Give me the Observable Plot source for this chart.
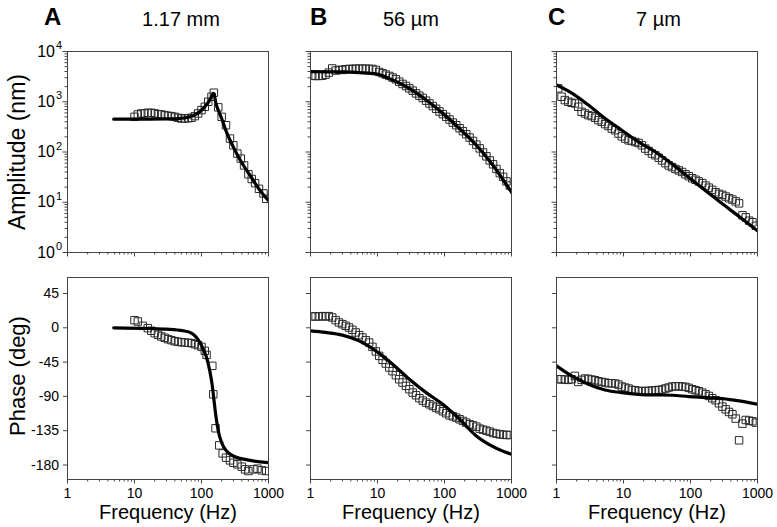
<!DOCTYPE html>
<html><head><meta charset="utf-8">
<script src="https://cdn.jsdelivr.net/npm/d3@7"></script>
<script src="https://cdn.jsdelivr.net/npm/@observablehq/plot@0.6"></script>
<style>
body{margin:0;background:#fff;}
#chart{position:relative;width:777px;height:527px;font-family:"Liberation Sans",Arial,Helvetica,sans-serif;background:#fff;}
#chart svg{position:absolute;left:0;top:0;}
</style></head><body><div id="chart"></div>
<script>
// ---------- data ----------
const panelLetters = ["A", "B", "C"];
const panelTitles = ["1.17 mm", "56 \u00b5m", "7 \u00b5m"];
const xMajor = [1, 10, 100, 1000];
const xMinor = [2,3,4,5,6,7,8,9,20,30,40,50,60,70,80,90,200,300,400,500,600,700,800,900];
const ampMajor = [1, 10, 100, 1000, 10000];
const ampExp = ["0", "1", "2", "3", "4"];
const ampMinor = [2,3,4,5,6,7,8,9,20,30,40,50,60,70,80,90,200,300,400,500,600,700,800,900,2000,3000,4000,5000,6000,7000,8000,9000];
const phaseTicks = [45, 0, -45, -90, -135, -180];

// Panel A (1.17 mm)
const freqAmpA = [10, 11.2, 12.6, 14.1, 15.8, 17.8, 20.0, 22.4, 25.1, 28.2, 31.6, 35.5, 39.8, 44.7, 50.1, 56.2, 63.1, 70.8, 79.4, 89.1, 100, 112, 126, 141, 153, 178, 200, 232, 266, 299, 343, 386, 432, 501, 562, 631, 721, 841, 923];
const ampA = [501, 558, 585, 585, 603, 603, 585, 567, 558, 541, 525, 517, 501, 479, 464, 464, 471, 479, 517, 585, 681, 794, 1000, 1259, 1514, 774, 501, 341, 185, 136, 93, 74, 54, 36, 29, 24, 18.5, 15, 11.7];
const freqPhA = [10, 11.2, 13.3, 15.8, 17.8, 20.0, 22.4, 25.1, 28.2, 31.6, 35.5, 39.8, 44.7, 50.1, 56.2, 63.1, 70.8, 79.4, 89.1, 100, 112, 119, 145, 150, 162, 184, 207, 232, 266, 299, 343, 398, 447, 501, 596, 684, 794, 923];
const phA = [10, 8.3, 2.6, -0.4, -3.9, -7, -9.2, -11.4, -13.1, -14.9, -16.2, -17.5, -18.4, -18.8, -19.3, -19.7, -20.1, -21.5, -22.8, -25, -30.2, -35.5, -49.9, -87.2, -131.8, -154.2, -164.7, -170.4, -173.9, -177, -179.1, -182.2, -185.7, -187.9, -185.7, -184.8, -187, -187.9];
const fitFreqA = [4.9, 16.8, 29.9, 47.3, 63.1, 75, 94.4, 112, 126, 141, 150, 155, 164, 178, 200, 237, 299, 376, 473, 596, 750, 1000];
const fitAmpA = [450, 452, 456, 464, 490, 525, 631, 794, 970, 1260, 1470, 1380, 930, 681, 464, 245, 125, 70, 43, 27, 17, 10.8];
const fitPhFreqA = [4.9, 16.8, 29.9, 53.1, 70.8, 84.1, 94.4, 106, 119, 133, 145, 153, 164, 178, 200, 237, 299, 531, 1000];
const fitPhA = [0, -0.9, -1.8, -3.9, -7, -12.7, -19.3, -28, -39, -56.5, -76.2, -93.7, -115.6, -135.3, -150.7, -161.6, -168.2, -173.9, -177];

// Panels B and C share the measurement frequencies
const freqBC = [1.06, 1.19, 1.33, 1.50, 1.68, 1.88, 2.11, 2.37, 2.66, 2.99, 3.35, 3.76, 4.22, 4.73, 5.31, 5.96, 6.68, 7.50, 8.41, 9.44, 10.6, 11.9, 13.3, 15.0, 16.8, 18.8, 21.1, 23.7, 26.6, 29.9, 33.5, 37.6, 42.2, 47.3, 53.1, 59.6, 66.8, 75.0, 84.1, 94.4, 106, 119, 133, 150, 168, 188, 211, 237, 266, 299, 335, 376, 422, 473, 531, 596, 668, 750, 841, 944];

// Panel B (56 um)
const ampB = [3300, 3260, 3260, 3300, 3450, 3800, 4600, 4175, 4300, 4300, 4430, 4500, 4500, 4550, 4550, 4550, 4550, 4500, 4500, 4300, 3920, 3690, 3470, 3260, 3030, 2800, 2510, 2260, 2057, 1848, 1660, 1468, 1320, 1190, 1050, 926, 820, 725, 640, 567, 501, 443, 385, 341, 297, 260, 226, 194, 166, 140, 118, 98, 82, 68, 57, 46, 38, 32, 26, 21.5];
const phB = [14.9, 14.9, 14.9, 15.3, 14.9, 15.3, 13.6, 10.1, 7.0, 4.8, 2.6, 0.4, -2.6, -6.1, -9.6, -12.7, -16.2, -19.3, -25, -31, -36.8, -42, -46.9, -52.1, -56.9, -62.2, -67.5, -71.8, -76.2, -80.6, -85, -88.5, -92.4, -95.5, -98.1, -100.3, -102.5, -104.7, -106.9, -109.5, -112.1, -114.8, -116.1, -117.8, -120, -122.2, -124.4, -126.6, -127.9, -129.7, -132.3, -133.6, -134.9, -136.2, -138, -138.9, -139.7, -140.2, -140.6, -140.6];
const fitFreqB = [1, 2.99, 5.31, 9.44, 16.8, 29.9, 53.1, 94.4, 168, 299, 531, 1000];
const fitAmpB = [3980, 3920, 3800, 3575, 2712, 1848, 1080, 585, 293, 136, 54, 15.8];
const fitPhFreqB = [1, 1.68, 2.99, 5.31, 9.44, 16.8, 29.9, 53.1, 94.4, 168, 299, 531, 1000];
const fitPhB = [-4, -6.1, -9.6, -17.1, -30.2, -47.7, -67.5, -85, -100.3, -120, -141.9, -155.9, -166];

// Panel C (7 um)
const ampC = [1848, 1259, 1080, 1000, 954, 926, 794, 631, 585, 541, 517, 479, 430, 398, 359, 330, 293, 271, 233, 205, 185, 171, 166, 158, 151, 136, 117, 105, 93, 86, 77, 68, 60, 54, 50, 46, 43, 40, 36, 33, 30, 28, 26, 24, 21.5, 19.5, 17.6, 15.8, 14.7, 14, 13, 12, 11.3, 10.4, 9.5, 5.5, 5.0, 4.3, 4.0, 3.4];
const phC = [-67.5, -67.5, -67.9, -68.3, -67.5, -63.1, -71, -68.3, -66.6, -67, -67.9, -68.8, -70.1, -71, -71.8, -72.7, -72.7, -73.1, -74.5, -77.1, -78.4, -79.7, -81.5, -81.9, -82.8, -83.2, -82.8, -82.8, -82.3, -81.9, -81.5, -81, -79.7, -78.4, -77.1, -76.7, -76.7, -77.1, -77.5, -78.8, -80.6, -81.9, -83.2, -85, -87.2, -89.4, -92.4, -95, -99, -103.4, -106.9, -110.4, -113.4, -119.1, -147.6, -125.7, -120.9, -121.8, -122.6, -124.4];
const fitFreqC = [1, 1.88, 2.99, 5.31, 9.44, 16.8, 29.9, 53.1, 94.4, 168, 299, 531, 1000];
const fitAmpC = [2154, 1360, 858, 464, 271, 158, 100, 58, 31, 17, 9.3, 5.2, 2.7];
const fitPhFreqC = [1, 1.68, 2.99, 5.31, 9.44, 16.8, 29.9, 53.1, 94.4, 168, 299, 531, 1000];
const fitPhC = [-49.9, -63.1, -74, -81.5, -85, -87.2, -88, -88.5, -90.2, -91.5, -92.9, -95.9, -100.3];

// ---------- layout ----------
const W = 777, H = 527;
const FONT = '"Liberation Sans", Arial, Helvetica, sans-serif';
const colPx = [[67, 268], [310, 511], [556, 757]];
const ampRowPx = [51, 252];
const phRowPx = [277, 479];
const phDomain = [-199, 66];

const zip = (xs, ys) => xs.map((x, i) => ({f: x, v: ys[i]}));
const panels = [
  {amp: zip(freqAmpA, ampA), ph: zip(freqPhA, phA), fitAmp: zip(fitFreqA, fitAmpA), fitPh: zip(fitPhFreqA, fitPhA)},
  {amp: zip(freqBC, ampB), ph: zip(freqBC, phB), fitAmp: zip(fitFreqB, fitAmpB), fitPh: zip(fitPhFreqB, fitPhB)},
  {amp: zip(freqBC, ampC), ph: zip(freqBC, phC), fitAmp: zip(fitFreqC, fitAmpC), fitPh: zip(fitPhFreqC, fitPhC)}
];

const container = document.getElementById("chart");
const tickStroke = "#444";

function makePanel(col, isAmp) {
  const [L, R] = colPx[col];
  const [T, B] = isAmp ? ampRowPx : phRowPx;
  const p = panels[col];
  const data = isAmp ? p.amp : p.ph;
  const fit = isAmp ? p.fitAmp : p.fitPh;
  const marks = [
    Plot.axisX(xMinor, {anchor: "bottom", tickSize: 2.5, tickFormat: () => "", stroke: tickStroke, label: null}),
    Plot.axisX(xMajor, {anchor: "bottom", tickSize: 4.5, tickPadding: 4, stroke: tickStroke, fill: "#000", fontSize: 14,
      tickFormat: isAmp ? () => "" : d => String(d), label: null}),
  ];
  if (isAmp) {
    marks.push(Plot.axisY(ampMinor, {anchor: "left", tickSize: 2.5, tickFormat: () => "", stroke: tickStroke, label: null}));
    marks.push(Plot.axisY(ampMajor, {anchor: "left", tickSize: 4.5, tickFormat: () => "", stroke: tickStroke, label: null}));
    if (col === 0) {
      marks.push(Plot.text(ampMajor, {y: d => d, frameAnchor: "left", text: () => "10", textAnchor: "end", dx: -12.5, fontSize: 16, fill: "#000"}));
      marks.push(Plot.text(ampMajor, {y: d => d, frameAnchor: "left", text: (d, i) => ampExp[i], textAnchor: "start", dx: -11.5, dy: -6, fontSize: 11, fill: "#000"}));
    }
  } else {
    marks.push(Plot.axisY(phaseTicks, {anchor: "left", tickSize: 4, tickPadding: 4.5, stroke: tickStroke, fill: "#000", fontSize: 14,
      tickFormat: col === 0 ? d => String(d) : () => "", label: null}));
  }
  marks.push(Plot.dot(data, {x: "f", y: "v", symbol: "square", r: 4.2, stroke: "#2a2a2a", strokeWidth: 1, fill: "none", clip: true}));
  marks.push(Plot.line(fit, {x: "f", y: "v", stroke: "#000", strokeWidth: 3.2, curve: "monotone-x", clip: true}));
  marks.push(Plot.frame({stroke: "#444", strokeWidth: 1}));

  const svg = Plot.plot({
    width: W, height: H,
    marginLeft: L, marginRight: W - R, marginTop: T, marginBottom: H - B,
    style: {background: "transparent", fontFamily: FONT, fontSize: "14px", overflow: "visible"},
    x: {type: "log", domain: [1, 1000], axis: null, label: null},
    y: isAmp ? {type: "log", domain: [1, 10000], axis: null, label: null} : {type: "linear", domain: phDomain, axis: null, label: null},
    marks
  });
  container.appendChild(svg);
}

for (let c = 0; c < 3; c++) { makePanel(c, true); makePanel(c, false); }

// ---------- titles and axis titles ----------
const ov = d3.select(container).append("svg").attr("width", W).attr("height", H)
  .style("font-family", FONT);
const letterX = [44, 310, 548];
const titleCx = [181, 411, 658.5];
const colCx = colPx.map(([l, r]) => (l + r) / 2 + 0.5);
for (let c = 0; c < 3; c++) {
  ov.append("text").attr("x", letterX[c]).attr("y", 25).attr("font-size", 24).attr("font-weight", "bold").text(panelLetters[c]);
  ov.append("text").attr("x", titleCx[c]).attr("y", 25.5).attr("font-size", 20).attr("text-anchor", "middle").text(panelTitles[c]);
  ov.append("text").attr("x", colCx[c]).attr("y", 519).attr("font-size", 20).attr("text-anchor", "middle").text("Frequency (Hz)");
}
ov.append("text").attr("transform", "translate(25,152) rotate(-90)").attr("font-size", 23).attr("text-anchor", "middle").text("Amplitude (nm)");
ov.append("text").attr("transform", "translate(25,376) rotate(-90)").attr("font-size", 22).attr("text-anchor", "middle").text("Phase (deg)");
</script>
</body></html>
